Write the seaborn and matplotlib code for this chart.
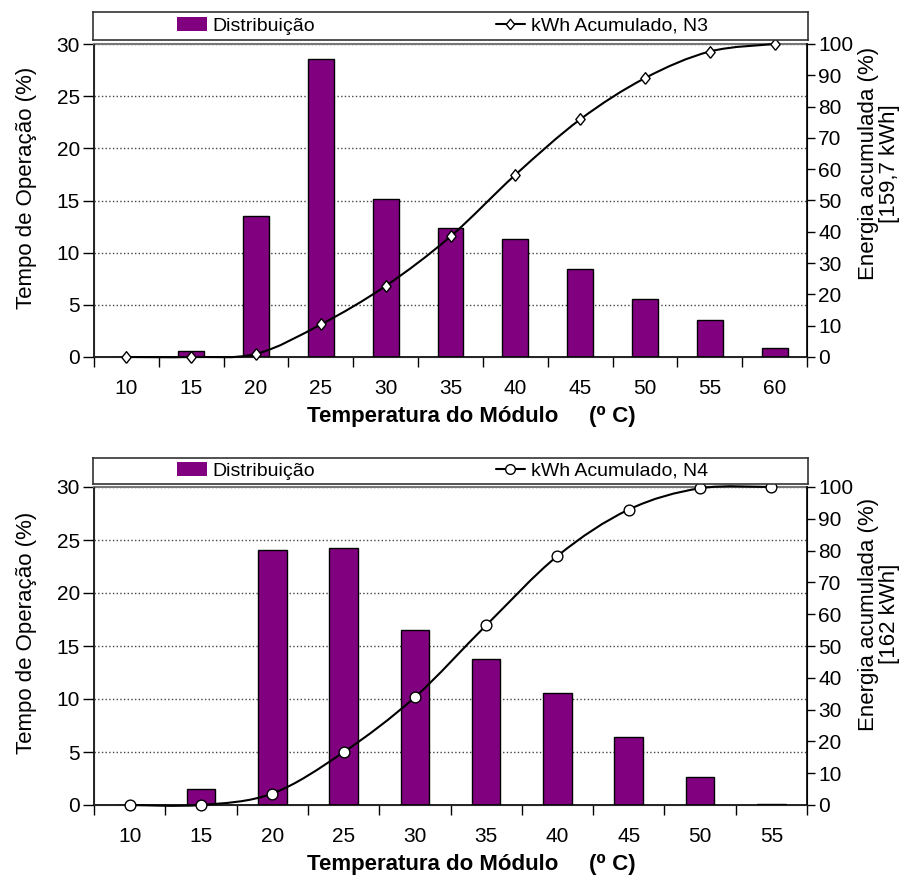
import numpy as np
import pandas as pd
import seaborn as sns
import matplotlib.pyplot as plt
from matplotlib.path import Path
from matplotlib.patches import PathPatch, Patch
from matplotlib.lines import Line2D

# data (N3 top, N4 bottom)
temps_n3 = ['10', '15', '20', '25', '30', '35', '40', '45', '50', '55', '60']
dist_n3 = [0.0, 0.6, 13.5, 28.6, 15.1, 12.4, 11.3, 8.4, 5.6, 3.5, 0.9]
energy_n3 = [0.0, 0.0, 1.0, 10.4, 22.7, 38.5, 58.2, 75.9, 89.1, 97.6, 100.0]

temps_n4 = ['10', '15', '20', '25', '30', '35', '40', '45', '50', '55']
dist_n4 = [0.0, 1.5, 24.1, 24.2, 16.5, 13.8, 10.6, 6.4, 2.6, 0.1]
energy_n4 = [0.0, 0.0, 3.6, 16.6, 33.9, 56.5, 78.3, 92.9, 99.6, 100.0]

PURPLE = '#800080'
# open diamond, a bit wider than matplotlib's thin 'd'
DIAMOND = [(0, -1), (0.8, 0), (0, 1), (-0.8, 0), (0, -1)]

sns.set_style('white')
plt.rcParams['font.family'] = ['Liberation Sans', 'DejaVu Sans']
plt.rcParams['text.color'] = 'black'
plt.rcParams['axes.labelcolor'] = 'black'
plt.rcParams['xtick.color'] = 'black'
plt.rcParams['ytick.color'] = 'black'


def smooth_path(xs, ys):
    # Excel-like smoothed line: Catmull-Rom segments as cubic Bezier
    pts = list(zip(xs, ys))
    verts = [pts[0]]
    codes = [Path.MOVETO]
    for i in range(len(pts) - 1):
        p0 = pts[i - 1] if i > 0 else pts[i]
        p1, p2 = pts[i], pts[i + 1]
        p3 = pts[i + 2] if i + 2 < len(pts) else pts[i + 1]
        c1 = (p1[0] + (p2[0] - p0[0]) / 6, p1[1] + (p2[1] - p0[1]) / 6)
        c2 = (p2[0] - (p3[0] - p1[0]) / 6, p2[1] - (p3[1] - p1[1]) / 6)
        verts += [c1, c2, p2]
        codes += [Path.CURVE4] * 3
    return Path(verts, codes)


def panel(fig, rect, leg_rect, temps, dist, energy, marker, msize, series, kwh, ylab_y):
    n = len(temps)
    df = pd.DataFrame({'temp': temps, 'dist': dist, 'energy': energy, 'pos': np.arange(n)})
    h_px = rect[3] * 884

    ax = fig.add_axes(rect)
    sns.barplot(data=df, x='temp', y='dist', color=PURPLE, saturation=1,
                edgecolor='black', linewidth=1, width=0.4, ax=ax, zorder=2)
    ax.set_ylim(0, 30)
    ax.set_yticks(range(0, 31, 5))
    ax.set_xlim(-0.5, n - 0.5)
    ax.set_xticks(np.arange(n))
    ax.set_xticklabels(temps)
    ax.set_xticks(np.arange(n + 1) - 0.5, minor=True)
    ax.tick_params(axis='x', which='major', length=0, pad=16, labelsize=15)
    ax.tick_params(axis='x', which='minor', length=7, width=1, direction='out', bottom=True)
    ax.tick_params(axis='y', length=8, width=1, direction='out', left=True, labelsize=15, pad=2)
    ax.grid(axis='y', linestyle=':', color='#444444', linewidth=1, zorder=0)
    for s in ['left', 'bottom']:
        ax.spines[s].set_color('black')
        ax.spines[s].set_linewidth(1.2)
    ax.spines['top'].set_color('#777777')
    ax.spines['top'].set_linewidth(1.5)
    ax.spines['right'].set_color('black')
    ax.set_ylabel('Tempo de Operação (%)', fontsize=16)
    ax.yaxis.set_label_coords(-0.08, 0.54)
    ax.set_xlabel('Temperatura do Módulo     (\u2070 C)', fontsize=16, fontweight='bold')
    ax.xaxis.set_label_coords((471 - 94) / 713, -49 / h_px)

    ax2 = ax.twinx()
    ax2.add_patch(PathPatch(smooth_path(df['pos'], df['energy']), fill=False,
                            edgecolor='black', linewidth=1.5, clip_on=False, zorder=3))
    sns.scatterplot(data=df, x='pos', y='energy', marker=marker, s=msize, color='white',
                    edgecolor='black', linewidth=1, ax=ax2, clip_on=False, zorder=4)
    ax2.set_ylim(0, 100)
    ax2.set_yticks(range(0, 101, 10))
    ax2.set_xlim(-0.5, n - 0.5)
    ax2.tick_params(axis='y', length=6, width=1, direction='out', right=True, labelsize=15, pad=2)
    ax2.set_ylabel('Energia acumulada (%)\n' + kwh, fontsize=16, linespacing=1.0)
    ax2.yaxis.label.set_verticalalignment('center')
    ax2.yaxis.set_label_coords((879 - 94) / 713, ylab_y)
    ax2.set_xlabel('')
    ax2.spines['right'].set_color('black')
    ax2.spines['right'].set_linewidth(1.2)
    ax2.spines['top'].set_visible(False)

    # legend box above the plot area
    lax = fig.add_axes(leg_rect)
    lax.set_xticks([])
    lax.set_yticks([])
    for s in lax.spines.values():
        s.set_color('#333333')
        s.set_linewidth(1.2)
    handles = [Patch(facecolor=PURPLE, edgecolor='none'),
               Line2D([], [], color='black', linewidth=1.5, marker=marker,
                      markersize=np.sqrt(msize) * 0.9, markerfacecolor='white', markeredgecolor='black')]
    lax.legend(handles, ['Distribuição', series], ncol=2, loc='center left',
               bbox_to_anchor=(0.118, 0.5), frameon=False, fontsize=14,
               handlelength=1.5, handleheight=0.75, handletextpad=0.3,
               columnspacing=9.3, borderpad=0, borderaxespad=0)
    return ax, ax2


fig = plt.figure(figsize=(9.05, 8.84), dpi=100)
panel(fig, [94 / 905, 1 - 357 / 884, 713 / 905, 313 / 884],
      [93 / 905, 1 - 40 / 884, 715 / 905, 28 / 884],
      temps_n3, dist_n3, energy_n3, DIAMOND, 70, 'kWh Acumulado, N3', '[159,7 kWh]', 0.617)
panel(fig, [94 / 905, 1 - 805 / 884, 713 / 905, 318 / 884],
      [93 / 905, 1 - 484 / 884, 715 / 905, 26 / 884],
      temps_n4, dist_n4, energy_n4, 'o', 60, 'kWh Acumulado, N4', '[162 kWh]', 0.60)

fig.savefig('out.png', dpi=100)
